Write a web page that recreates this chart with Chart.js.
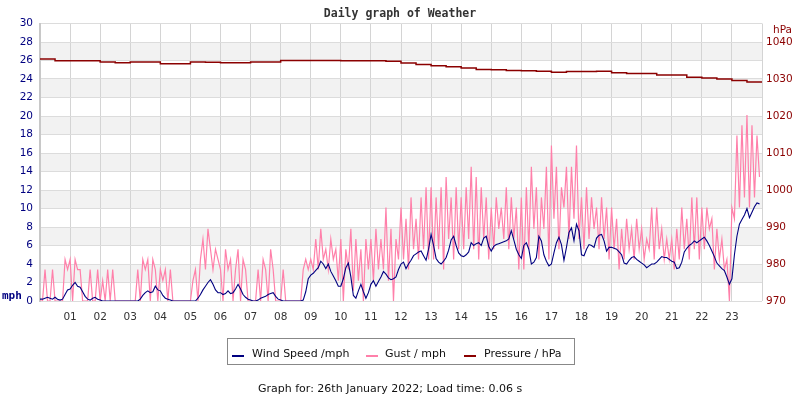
<!DOCTYPE html>
<html><head><meta charset="utf-8">
<script src="https://cdn.jsdelivr.net/npm/chart.js@4.4.1/dist/chart.umd.min.js"></script>
<style>html,body{margin:0;padding:0;background:#fff}#wrap{width:800px;height:400px;position:relative}</style>
</head><body><div id="wrap"><canvas id="c" width="800" height="400"></canvas></div>
<script>
// x-axis hour tick labels
const hourLabels = ['01','02','03','04','05','06','07','08','09','10','11','12','13','14','15','16','17','18','19','20','21','22','23'];
// 5-minute samples, 12 per hour (00:00 .. 23:55)
const windSpeed = [
 0.2,0.2,0.3,0.4,0.3,0.2,0.4,0.2,0.1,0.2,0.7,1.2,
 1.3,1.7,2.0,1.6,1.5,1.0,0.5,0.2,0.1,0.3,0.4,0.2,
 0.1,0,0,0,0,0,0,0,0,0,0,0,
 0,0,0,0,0.2,0.6,0.9,1.1,0.9,1.0,1.6,1.2,
 1.1,0.6,0.3,0.2,0.1,0,0,0,0,0,0,0,
 0,0,0,0.3,0.7,1.2,1.6,2.0,2.3,1.8,1.2,0.9,
 0.9,0.7,0.8,1.1,0.8,0.9,1.3,1.8,1.3,0.7,0.4,0.2,
 0.1,0,0,0.1,0.3,0.4,0.5,0.7,0.8,0.9,0.5,0.2,
 0.1,0,0,0,0,0,0,0,0,0.1,1.0,2.4,
 2.8,3.0,3.3,3.6,4.3,4.0,3.5,4.0,3.2,2.7,2.2,1.6,
 1.6,2.4,3.6,4.1,2.6,0.6,0.3,1.1,1.8,1.0,0.3,0.9,
 1.8,2.2,1.6,2.1,2.6,3.2,2.9,2.5,2.3,2.4,2.6,3.4,
 4.0,4.2,3.5,4.0,4.4,4.9,5.1,5.3,5.4,4.9,4.4,5.6,
 7.2,6.0,4.6,4.2,4.0,4.3,4.7,5.5,6.6,7.0,6.0,5.2,
 4.9,4.8,5.0,5.3,6.3,6.0,6.2,6.3,6.0,6.8,7.0,5.9,
 5.4,5.9,6.1,6.2,6.3,6.4,6.5,6.7,7.6,6.6,5.6,5.0,
 4.6,6.0,6.3,5.6,4.0,4.2,4.7,7.0,6.5,5.0,4.3,3.8,
 4.0,5.2,6.3,6.9,6.1,4.4,5.8,7.4,7.9,6.5,8.3,7.6,
 5.0,4.9,5.6,6.1,6.0,5.8,6.8,7.1,7.2,6.5,5.4,5.8,
 5.8,5.7,5.6,5.3,5.0,4.1,4.0,4.4,4.7,4.8,4.5,4.3,
 4.1,3.9,3.6,3.8,4.0,4.0,4.2,4.5,4.8,4.7,4.7,4.5,
 4.3,4.2,3.5,3.6,4.2,5.3,5.7,6.0,6.2,6.5,6.3,6.5,
 6.7,6.9,6.5,6.0,5.4,4.8,4.1,3.8,3.5,3.3,2.6,1.8,
 2.4,5.0,7.0,8.3,8.8,9.3,10.0,9.0,9.6,10.2,10.6,10.5
];
const gustSpeed = [
 0,0,3.4,0,0,3.4,0,0,0,0,4.5,3.4,
 4.5,0,4.5,3.4,3.4,0,0,0,3.4,0,0,3.4,
 0,2.2,0,3.4,0,3.4,0,0,0,0,0,0,
 0,0,0,3.4,0,4.5,3.4,4.5,0,4.5,3.4,0,
 3.4,2.2,3.4,0,3.4,0,0,0,0,0,0,0,
 0,2.2,3.4,0,4.5,6.7,3.4,7.8,5.6,3.4,5.6,4.5,
 3.4,0,5.6,3.4,4.5,0,3.4,5.6,0,4.5,3.4,0,
 0,0,0,3.4,0,4.5,3.4,0,5.6,3.4,0,0,
 0,3.4,0,0,0,0,0,0,0,3.4,4.5,3.4,
 4.5,3.4,6.7,3.4,7.8,4.5,5.6,3.4,6.7,4.5,5.6,2.2,
 6.7,0,5.6,3.4,7.8,1.1,6.7,2.2,5.6,0,6.7,3.4,
 6.7,2.2,7.8,3.4,6.7,3.4,10.1,2.2,7.8,0,6.7,4.5,
 10.1,4.5,8.9,3.4,11.2,5.6,8.9,4.5,11.2,5.6,12.3,4.5,
 12.3,4.5,11.2,5.6,12.3,3.4,13.4,6.7,11.2,4.5,12.3,5.6,
 11.2,5.6,12.3,6.7,14.5,5.6,13.4,4.5,12.3,6.7,11.2,4.5,
 10.1,5.6,11.2,7.8,10.1,6.7,12.3,5.6,11.2,6.7,10.1,3.4,
 11.2,3.4,12.3,5.6,14.5,7.8,12.3,4.5,11.2,7.8,14.5,4.5,
 16.8,8.9,14.5,5.6,12.3,10.1,14.5,6.7,14.5,8.9,16.8,6.7,
 11.2,5.6,12.3,6.7,11.2,7.8,10.1,5.6,11.2,6.7,10.1,4.5,
 10.1,5.6,8.9,3.4,7.8,4.5,8.9,5.6,7.8,4.5,8.9,5.6,
 7.8,4.5,6.7,5.6,10.1,4.5,10.1,5.6,7.8,4.5,6.7,4.5,
 6.7,3.4,7.8,4.5,10.1,5.6,8.9,4.5,11.2,5.6,11.2,4.5,
 10.1,5.6,10.1,7.8,8.9,3.4,7.8,4.5,6.7,3.4,4.5,0,
 10.1,8.9,17.9,10.1,19.0,11.2,20.1,10.1,19.0,11.2,17.9,13.4
];
// half-hourly pressure (00:00 .. 24:00)
const pressureHpa = [
 1035.4,1034.9,1034.9,1034.9,1034.6,1034.4,1034.6,1034.6,1034.1,1034.1,1034.6,1034.5,
 1034.4,1034.4,1034.6,1034.6,1035.0,1035.0,1035.0,1035.0,1034.9,1034.9,1034.9,1034.8,
 1034.3,1033.9,1033.6,1033.3,1033.0,1032.6,1032.5,1032.3,1032.2,1032.1,1031.8,1032.0,
 1032.0,1032.1,1031.7,1031.5,1031.5,1031.1,1031.1,1030.5,1030.3,1030.0,1029.6,1029.2,
 1029.1
];
const seriesNames = ['Wind Speed /mph','Gust / mph','Pressure / hPa'];
const seriesColors = ['#000080','#ff80aa','#8b0000'];

const windPts = windSpeed.map((v,i)=>({x:i/12,y:v}));
const gustPts = gustSpeed.map((v,i)=>({x:i/12,y:v}));
const presPts = pressureHpa.map((v,i)=>({x:i/2,y:v}));

const FONT = 'DejaVu Sans';

const bandsPlugin = {
  id:'bands',
  beforeDraw(chart){
    const {ctx, chartArea:a, scales:{y}} = chart;
    ctx.save();
    ctx.fillStyle = '#fff';
    ctx.fillRect(0,0,chart.width,chart.height);
    ctx.fillStyle = '#f2f2f2';
    for (let v=2; v<30; v+=4){
      const t = y.getPixelForValue(v+2), b = y.getPixelForValue(v);
      ctx.fillRect(a.left, t, a.right-a.left, b-t);
    }
    ctx.restore();
  }
};
const textPlugin = {
  id:'texts',
  afterDraw(chart){
    const ctx = chart.ctx;
    ctx.save();
    ctx.textBaseline = 'alphabetic';
    ctx.fillStyle = '#333';
    ctx.font = 'bold 11.5px "DejaVu Sans Mono"';
    ctx.textAlign = 'center';
    ctx.fillText('Daily graph of Weather', 400, 17);
    ctx.textAlign = 'left';
    ctx.fillStyle = '#000080';
    ctx.font = 'bold 11px "DejaVu Sans Mono"';
    ctx.fillText('mph', 2, 299);
    ctx.fillStyle = '#8b0000';
    ctx.font = '10.5px "' + FONT + '"';
    ctx.fillText('hPa', 773, 33);
    ctx.strokeStyle = '#888';
    ctx.lineWidth = 1;
    ctx.strokeRect(227.5, 338.5, 347, 26);
    const items = [[232, 252], [366, 385], [464, 484]];
    ctx.font = '11px "' + FONT + '"';
    items.forEach((it, k) => {
      ctx.fillStyle = seriesColors[k];
      ctx.fillRect(it[0], 355, 12, 2);
      ctx.fillStyle = '#111';
      ctx.fillText(seriesNames[k], it[1], 357);
    });
    ctx.fillStyle = '#111';
    ctx.fillText('Graph for: 26th January 2022; Load time: 0.06 s', 258, 392);
    ctx.restore();
  }
};

new Chart(document.getElementById('c'), {
  type:'line',
  data:{datasets:[
    {label:seriesNames[0], data:windPts, borderColor:seriesColors[0], borderWidth:1.1, pointRadius:0, yAxisID:'y', tension:0},
    {label:seriesNames[1], data:gustPts, borderColor:seriesColors[1], borderWidth:1.2, pointRadius:0, yAxisID:'y', tension:0},
    {label:seriesNames[2], data:presPts, borderColor:seriesColors[2], borderWidth:1.5, pointRadius:0, yAxisID:'y2', stepped:'before'}
  ]},
  options:{
    responsive:false, animation:false, devicePixelRatio:1,
    layout:{padding:{top:23.5,left:0,right:0,bottom:0}},
    plugins:{legend:{display:false}, title:{display:false}, tooltip:{enabled:false}},
    scales:{
      x:{type:'linear', min:0, max:24,
        ticks:{stepSize:1, autoSkip:false, maxRotation:0, color:'#333', padding:10,
          font:{family:FONT, size:10.5},
          callback:(v)=> (v>=1 && v<=23) ? hourLabels[v-1] : ''},
        grid:{color:'#d4d4d4', drawTicks:false}, border:{display:false},
        afterFit:(s)=>{s.height=99;}},
      y:{position:'left', min:0, max:30,
        ticks:{stepSize:2, color:'#000080', padding:7, font:{family:FONT, size:10.5}},
        grid:{color:'#dcdcdc', drawTicks:false}, border:{display:true, color:'#c8c8c8', width:2},
        afterFit:(s)=>{s.width=40;}},
      y2:{position:'right', min:970, max:1045,
        ticks:{stepSize:10, color:'#8b0000', padding:4, font:{family:FONT, size:10.5},
          callback:(v)=> (v%10===0) ? String(v) : ''},
        grid:{display:false, drawTicks:false}, border:{display:false},
        afterFit:(s)=>{s.width=38;}}
    }
  },
  plugins:[bandsPlugin, textPlugin]
});
</script></body></html>
